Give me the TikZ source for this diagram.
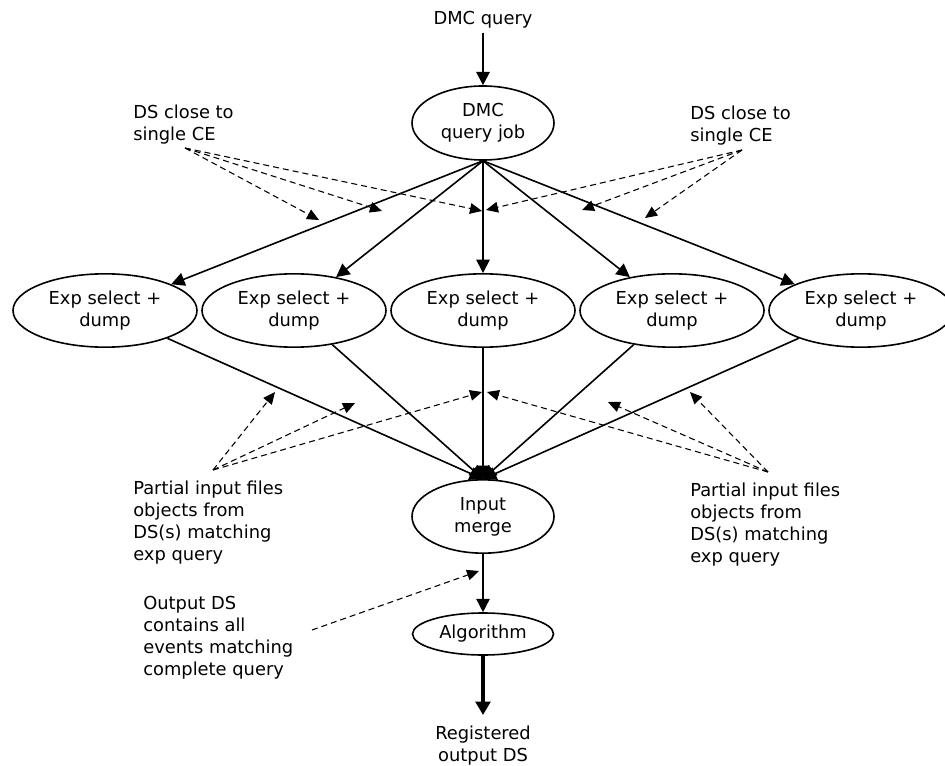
\documentclass[tikz,border=0pt]{standalone}
\usepackage{fontspec}
\setmainfont{DejaVu Sans}
\usetikzlibrary{arrows.meta,shapes.geometric}
\begin{document}
\begin{tikzpicture}[x=0.75pt,y=-0.75pt,
  every node/.style={font=\fontsize{13.4}{16.5}\selectfont},
  ell/.style={draw, ellipse, line width=1.2pt, inner sep=0pt, align=center},
  expbox/.style={ell, minimum width=138pt, minimum height=55pt},
  arr/.style={line width=1.2pt, -{Triangle[length=10pt,width=10pt]}},
  dsh/.style={line width=0.8pt, dash pattern=on 4.5pt off 3pt, -{Triangle[length=9pt,width=8pt]}},
  note/.style={align=left, anchor=north west, inner sep=0pt}]
\useasboundingbox (0,0) rectangle (945,766);

% main nodes
\node[inner sep=0pt, outer sep=3pt, anchor=base] (q) at (483,25) {DMC query};
\node[ell, minimum width=106.5pt, minimum height=55.5pt] (job) at (483,123) {DMC\\query job};
\node[expbox] (e1) at (105,310.5) {Exp select +\\dump};
\node[expbox] (e2) at (294,310.5) {Exp select +\\dump};
\node[expbox] (e3) at (483,310.5) {Exp select +\\dump};
\node[expbox] (e4) at (672,310.5) {Exp select +\\dump};
\node[expbox] (e5) at (861,310.5) {Exp select +\\dump};
\node[ell, minimum width=106.5pt, minimum height=55pt] (merge) at (483,516.5) {Input\\merge};
\node[ell, minimum width=105.75pt, minimum height=31.5pt] (alg) at (483,634) {Algorithm};
\node[align=center, inner sep=0pt, outer sep=8.25pt, anchor=north] (reg) at (483,715) {Registered\\output DS};

% annotations
\node[note] (dsl) at (133,105) {DS close to\\single CE};
\node[note] (dsr) at (690,106) {DS close to\\single CE};
\node[note] (pil) at (133,481) {Partial input files\\objects from\\DS(s) matching\\exp query};
\node[note] (pir) at (690,483) {Partial input files\\objects from\\DS(s) matching\\exp query};
\node[note] (outds) at (143,596) {Output DS\\contains all\\events matching\\complete query};

% free ends of annotation arrows
\coordinate (dslS) at (185,148);
\coordinate (dslA) at (319,220);
\coordinate (dslB) at (382,211);
\coordinate (dslC) at (482,211);
\coordinate (dsrS) at (742,150);
\coordinate (dsrA) at (645,218);
\coordinate (dsrB) at (582,210);
\coordinate (dsrC) at (486,210);
\coordinate (pilS) at (213,470);
\coordinate (pilA) at (275,392);
\coordinate (pilB) at (355,403);
\coordinate (pilC) at (482,392);
\coordinate (pirS) at (768,472);
\coordinate (pirA) at (690,392);
\coordinate (pirB) at (608,402);
\coordinate (pirC) at (487,392);
\coordinate (outS) at (312,630);
\coordinate (outA) at (479,571);

% solid connectors
\draw[line width=1.6pt, -{Triangle[length=10pt,width=10pt]}] (q) -- (job);
\foreach \e in {e1,e2,e4,e5} \draw[arr] (job.south) -- (\e);
\draw[arr] (job) -- (e3);
\foreach \e in {e1,e2,e4,e5} \draw[arr] (\e) -- (merge.north);
\draw[arr] (e3) -- (merge);
\draw[arr] (merge) -- (alg);
\draw[line width=2.4pt, -{Triangle[length=10pt,width=11pt]}] (alg) -- (reg);

% dashed annotation arrows
\foreach \t in {dslA,dslB,dslC} \draw[dsh] (dslS) -- (\t);
\foreach \t in {dsrA,dsrB,dsrC} \draw[dsh] (dsrS) -- (\t);
\foreach \t in {pilA,pilB,pilC} \draw[dsh] (pilS) -- (\t);
\foreach \t in {pirA,pirB,pirC} \draw[dsh] (pirS) -- (\t);
\draw[dsh] (outS) -- (outA);
\end{tikzpicture}
\end{document}
